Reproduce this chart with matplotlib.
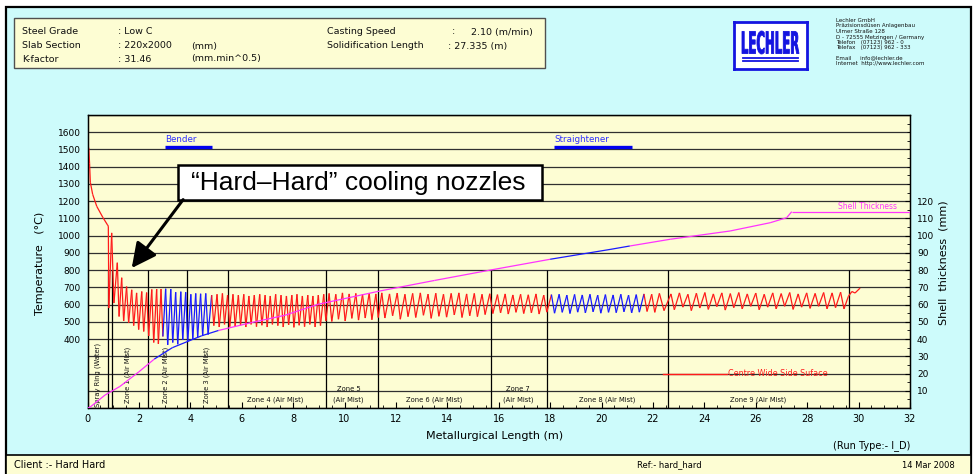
import matplotlib
matplotlib.use("Agg")
import matplotlib.pyplot as plt
import numpy as np
from matplotlib.patches import Rectangle, PathPatch
from matplotlib.collections import LineCollection
from matplotlib.textpath import TextPath
from matplotlib.font_manager import FontProperties
from matplotlib.transforms import Affine2D
from matplotlib.ticker import FixedLocator, MultipleLocator, FuncFormatter

plt.rcParams['font.family'] = ['DejaVu Sans']

# ---------------- data ----------------
# surface temperature before the first sprays (m, degC)
pre_x = [0.05, 0.08, 0.11, 0.20, 0.36, 0.60, 0.78, 0.81, 0.83]
pre_T = [1510, 1420, 1310, 1240, 1170, 1105, 1062, 1055, 580]

# sawtooth: positions of peaks, peak temperature, trough temperature after each peak
peak_x = [0.94, 1.16, 1.33, 1.52, 1.72, 1.91, 2.11, 2.30, 2.50, 2.69,
          2.86, 3.04, 3.24, 3.43, 3.63, 3.82, 4.02, 4.21, 4.40, 4.60,
          4.83, 5.04, 5.25, 5.45, 5.66, 5.87, 6.08, 6.28, 6.49, 6.70,
          6.91, 7.11, 7.32, 7.53, 7.74, 7.95, 8.15, 8.36, 8.57, 8.77,
          8.98, 9.19,
          9.40, 9.66, 9.92, 10.18, 10.44, 10.70, 10.96, 11.22,
          11.45, 11.75, 12.05, 12.35, 12.65, 12.95, 13.25, 13.55, 13.85, 14.15,
          14.45, 14.75, 15.05, 15.35, 15.65, 15.95, 16.25, 16.55, 16.85, 17.15,
          17.45, 17.75, 18.05, 18.35, 18.65, 18.95, 19.25, 19.55, 19.85, 20.15,
          20.45, 20.75, 21.05, 21.35, 21.65, 21.95, 22.25,
          22.70, 23.03, 23.36, 23.69, 24.02, 24.35, 24.68, 25.01, 25.34, 25.67,
          26.00, 26.33, 26.66, 26.99, 27.32, 27.65, 27.98, 28.31, 28.64, 28.97,
          29.30]
peak_T = [1016, 843, 756, 705, 686, 668, 676, 670, 688, 690,
          690, 692, 690, 672, 675, 672, 660, 665, 663, 665,
          655, 660, 665, 655, 660, 655, 660, 650, 655, 660,
          655, 650, 660, 655, 650, 655, 660, 650, 655, 650,
          655, 660,
          665, 660, 668, 662, 665, 660, 667, 662,
          668, 662, 667, 660, 665, 668, 661, 666, 660, 665,
          668, 662, 665, 660, 663, 658, 662, 656, 660, 657,
          662, 655, 658, 660, 655, 659, 656, 660, 655, 658,
          656, 660, 655, 658, 662, 660, 665,
          662, 668, 660, 666, 670, 662, 668, 664, 670, 662,
          667, 660, 668, 664, 670, 662, 668, 665, 670, 668,
          672]
trough_T = [609, 531, 505, 494, 478, 455, 444, 418, 380, 372,
            415, 366, 380, 370, 395, 385, 400, 410, 420, 426,
            478, 470, 485, 472, 475, 480, 470, 485, 472, 480,
            470, 485, 478, 470, 482, 468, 480, 472, 485, 470,
            478, 505,
            502, 515, 505, 520, 510, 522, 512, 525,
            522, 535, 515, 530, 525, 538, 520, 532, 527, 540,
            525, 535, 530, 542, 548, 552, 545, 555, 548, 552,
            545, 556, 550, 555, 548, 556, 552, 558, 550, 555,
            553, 558, 552, 556, 560, 555, 565,
            570, 585, 565, 580, 572, 588, 568, 582, 575, 590,
            570, 585, 575, 590, 572, 585, 578, 590, 575, 582,
            575]
tail_x = [29.60, 29.74, 29.86, 30.06]
tail_T = [647, 676, 667, 696]

# shell thickness (m, mm)
shell_x = [0.0, 0.10, 0.35, 0.68, 1.26, 2.0, 2.6, 3.3, 4.44, 5.1, 6.39, 7.68,
           8.98, 11.38, 13.5, 15.66, 18.0, 20.33, 21.1, 22.67, 25.0, 26.56,
           27.2, 27.4, 32.0]
shell_s = [0.0, 0.5, 3.5, 7.5, 12.5, 21.0, 28.4, 35.0, 41.9, 45.0, 49.6, 53.8,
           60.2, 67.9, 74.0, 80.0, 86.3, 92.0, 94.0, 97.9, 102.7, 107.5,
           110.4, 113.9, 113.9]

# bender / straightener extents (m)
bender_x = [3.02, 4.85]
straightener_x = [18.15, 21.2]
temp_blue = [(2.95, 4.80), (18.05, 21.65)]
shell_blue = [(2.70, 4.80), (18.0, 21.6)]

# spray zone boundaries (m)
zone_bounds = [0.81, 0.97, 2.37, 3.86, 5.45, 9.27, 11.29, 15.69, 17.89, 22.6, 29.64]
vert_zone_names = ["Spray Ring (Water)", "Zone 1 (Air Mist)", "Zone 2 (Air Mist)", "Zone 3 (Air Mist)"]
vert_zone_x = [0.41, 1.58, 3.05, 4.64]
horiz_zone_names = ["Zone 4 (Air Mist)", "Zone 5\n(Air Mist)", "Zone 6 (Air Mist)",
                    "Zone 7\n(Air Mist)", "Zone 8 (Air Mist)", "Zone 9 (Air Mist)"]
horiz_zone_x = [7.3, 10.15, 13.48, 16.76, 20.2, 26.1]

centre_x = [22.4, 24.87]
centre_T = [200, 200]

x_ticks = list(range(0, 33, 2))
t_ticks = list(range(0, 1701, 100))
s_ticks = list(range(10, 121, 10))

# ---------------- figure ----------------
W, H = 974, 474
fig = plt.figure(figsize=(W / 100, H / 100), dpi=100, facecolor='white')


def fx(px):
    return px / W


def fy(py):
    return 1 - py / H


CYAN = '#cdfbfb'
YEL = '#fdfdd3'
RED = '#ff1a1a'
BLUE = '#1a1aff'
MAG = '#ff33ff'

fig.add_artist(Rectangle((fx(6), fy(480)), fx(971) - fx(6), fy(7) - fy(480),
                         transform=fig.transFigure, fc=CYAN, ec='black', lw=1.6, zorder=0))
fig.add_artist(Rectangle((fx(14), fy(68)), fx(545) - fx(14), fy(18) - fy(68),
                         transform=fig.transFigure, fc=YEL, ec='#505050', lw=1.0, zorder=1))
fig.add_artist(Rectangle((fx(6), fy(480)), fx(971) - fx(6), fy(455) - fy(480),
                         transform=fig.transFigure, fc=YEL, ec='black', lw=1.2, zorder=1))

# header text
hdr = dict(fontsize=6.8, va='center', ha='left', color='#111111')
fig.text(fx(22), fy(32), "Steel Grade", **hdr)
fig.text(fx(22), fy(46), "Slab Section", **hdr)
fig.text(fx(22), fy(59), "K-factor", **hdr)
fig.text(fx(118), fy(32), ": Low C", **hdr)
fig.text(fx(118), fy(46), ": 220x2000", **hdr)
fig.text(fx(118), fy(59), ": 31.46", **hdr)
fig.text(fx(191), fy(46), "(mm)", **hdr)
fig.text(fx(191), fy(59), "(mm.min^0.5)", **hdr)
fig.text(fx(327), fy(32), "Casting Speed", **hdr)
fig.text(fx(327), fy(46), "Solidification Length", **hdr)
fig.text(fx(452), fy(32), ":", **hdr)
fig.text(fx(533), fy(32), "2.10 (m/min)", fontsize=6.8, va='center', ha='right', color='#111111')
fig.text(fx(448), fy(46), ": 27.335 (m)", **hdr)

# logo
axl = fig.add_axes([fx(734), fy(69), fx(807) - fx(734), fy(22) - fy(69)])
axl.set_xlim(0, 73)
axl.set_ylim(0, 47)
axl.set_facecolor('white')
axl.set_xticks([])
axl.set_yticks([])
for sp in axl.spines.values():
    sp.set_color('#1414e0')
    sp.set_linewidth(2.0)
tp = TextPath((0, 0), "LECHLER", size=10, prop=FontProperties(family='DejaVu Sans', weight='bold'))
ext = tp.get_extents()
tr = Affine2D().translate(-ext.x0, -ext.y0).scale(57 / ext.width, 23 / ext.height).translate(8, 15) + axl.transData
axl.add_patch(PathPatch(tp, transform=tr, fc='#1414e0', ec='#1414e0', lw=0.6))
for yy in (8, 11):
    axl.plot([9, 64], [yy, yy], color='#1414e0', lw=1.3)

comp = ["Lechler GmbH", "Präzisionsdüsen Anlagenbau", "Ulmer Straße 128",
        "D - 72555 Metzingen / Germany", "Telefon   (07123) 962 - 0",
        "Telefax   (07123) 962 - 333"]
comp_y = [20.5, 26, 31.5, 37, 42.5, 48]
for t, yy in zip(comp, comp_y):
    fig.text(fx(836), fy(yy), t, fontsize=4.0, va='center', ha='left', color='#111111')
fig.text(fx(836), fy(57.5), "Email     info@lechler.de", fontsize=4.0, va='center', color='#111111')
fig.text(fx(836), fy(63), "Internet  http://www.lechler.com", fontsize=4.0, va='center', color='#111111')

# main axes
ax = fig.add_axes([fx(87.5), fy(408), fx(910) - fx(87.5), fy(115) - fy(408)])
ax.set_facecolor(YEL)
ax.set_xlim(0, 32)
ax.set_ylim(0, 1700)
ax.set_xticks(x_ticks)
ax.xaxis.set_minor_locator(MultipleLocator(0.5))
ax.tick_params(axis='x', which='major', direction='in', length=4, labelsize=7, pad=4)
ax.tick_params(axis='x', which='minor', direction='in', length=2)
ax.set_yticks(t_ticks)
ax.yaxis.set_major_formatter(FuncFormatter(lambda v, p: f"{int(v)}" if 400 <= v <= 1600 else ""))
ax.tick_params(axis='y', length=0, labelsize=6.5, pad=5)
ax.grid(axis='y', color='#303030', lw=0.9)
ax.set_axisbelow(True)
for sp in ax.spines.values():
    sp.set_color('black')
    sp.set_linewidth(1.0)

ax.vlines(zone_bounds, 0, 800, colors='black', lw=0.9, zorder=1.5)


def colored_segments(xs, ys, blue_ranges, c_main, c_blue):
    pts = np.column_stack([xs, ys])
    segs = np.stack([pts[:-1], pts[1:]], axis=1)
    mids = (pts[:-1, 0] + pts[1:, 0]) / 2
    cols = [c_blue if any(a <= m <= b for a, b in blue_ranges) else c_main for m in mids]
    return segs, cols


# temperature vertices
vx = list(pre_x)
vT = list(pre_T)
n = len(peak_x)
for i in range(n):
    gap = (peak_x[i + 1] - peak_x[i]) if i < n - 1 else (peak_x[i] - peak_x[i - 1])
    vx += [peak_x[i], peak_x[i] + 0.4 * gap]
    vT += [peak_T[i], trough_T[i]]
vx += tail_x
vT += tail_T
segs, cols = colored_segments(vx, vT, temp_blue, RED, BLUE)
ax.add_collection(LineCollection(segs, colors=cols, linewidths=0.9, zorder=3))

# centre line legend
ax.plot(centre_x, centre_T, color=RED, lw=1.0, zorder=3)
ax.text(centre_x[1] + 0.05, 200, "Centre Wide Side Suface", color=RED, fontsize=5.8,
        va='center', ha='left', zorder=3)

# bender / straightener
ax.plot(bender_x, [1515, 1515], color='#0000ee', lw=2.4, solid_capstyle='butt', zorder=3)
ax.text(bender_x[0], 1560, "Bender", color='#3030ff', fontsize=6.3, va='center', ha='left')
ax.plot(straightener_x, [1515, 1515], color='#0000ee', lw=2.4, solid_capstyle='butt', zorder=3)
ax.text(straightener_x[0], 1560, "Straightener", color='#3030ff', fontsize=6.3, va='center', ha='left')

# zone labels
for name, xz in zip(vert_zone_names, vert_zone_x):
    ax.text(xz, 190, name, rotation=90, fontsize=4.9, ha='center', va='center', color='#111111')
for name, xz in zip(horiz_zone_names, horiz_zone_x):
    ax.text(xz, 30, name, fontsize=4.9, ha='center', va='bottom', color='#111111',
            multialignment='center', linespacing=1.9)

# annotation
ax.add_patch(Rectangle((3.52, 1209), 14.16, 198, fc='white', ec='black', lw=1.8, zorder=10))
ax.text(10.55, 1306, "\u201cHard\u2013Hard\u201d cooling nozzles", fontfamily='Liberation Sans',
        fontsize=19, ha='center', va='center', zorder=11)
ax.annotate('', xy=(1.72, 812), xytext=(3.72, 1209),
            arrowprops=dict(arrowstyle='-|>,head_length=1.0,head_width=0.5', color='black',
                            lw=2.2, shrinkA=0, shrinkB=0, mutation_scale=15), zorder=11)

# shell thickness axis
ax2 = ax.twinx()
ax2.set_ylim(0, 170)
ax2.yaxis.set_major_locator(FixedLocator(s_ticks))
ax2.yaxis.set_minor_locator(MultipleLocator(5))
ax2.tick_params(axis='y', which='major', direction='in', length=3.5, labelsize=6.5, pad=5)
ax2.tick_params(axis='y', which='minor', direction='in', length=2.5)
segs2, cols2 = colored_segments(shell_x, shell_s, shell_blue, MAG, BLUE)
ax2.add_collection(LineCollection(segs2, colors=cols2, linewidths=0.9, zorder=3))
ax2.text(29.2, 116.8, "Shell Thickness", color=MAG, fontsize=5.5, va='center', ha='left')

# axis titles
fig.text(fx(40), fy(263), "Temperature   (\u00b0C)", rotation=90, ha='center', va='center', fontsize=8)
fig.text(fx(944), fy(263), "Shell  thickness  (mm)", rotation=90, ha='center', va='center', fontsize=8)
fig.text(fx(495), fy(436), "Metallurgical Length (m)", ha='center', va='center', fontsize=8)
fig.text(fx(910), fy(446), "(Run Type:- I_D)", ha='right', va='center', fontsize=7)

# footer
fig.text(fx(14), fy(465), "Client :- Hard Hard", ha='left', va='center', fontsize=7)
fig.text(fx(637), fy(465), "Ref:- hard_hard", ha='left', va='center', fontsize=6)
fig.text(fx(955), fy(465), "14 Mar 2008", ha='right', va='center', fontsize=6)

fig.savefig("out.png", dpi=100, facecolor='white')
